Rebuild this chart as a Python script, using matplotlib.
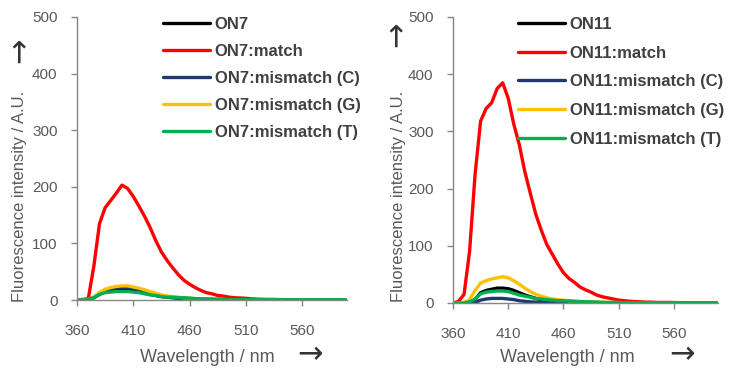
import numpy as np
import matplotlib
matplotlib.use("Agg")
import matplotlib.pyplot as plt

plt.rcParams['font.family'] = ['Liberation Sans', 'DejaVu Sans']

wl = list(range(360, 601, 5))

def tail(vals):
    # pad a series with its last value up to 600 nm
    return vals + [vals[-1]] * (len(wl) - len(vals))

labels7 = ['ON7', 'ON7:match', 'ON7:mismatch (C)', 'ON7:mismatch (G)', 'ON7:mismatch (T)']
labels11 = ['ON11', 'ON11:match', 'ON11:mismatch (C)', 'ON11:mismatch (G)', 'ON11:mismatch (T)']
colors = ['#000000', '#FF0000', '#1F3870', '#FFC000', '#00B050']

# ON7 panel
on7 = tail([0, 0, 1, 4, 10, 15, 17, 18, 18, 17, 16, 14, 12, 10, 8, 6, 5, 4, 3, 3, 2, 2, 1.5, 1.5, 1, 1, 1, 0.5])
on7_match = tail([0, 1, 2, 60, 135, 163, 176, 189, 203, 197, 183, 166, 148, 128, 105, 85, 70, 57, 45, 35,
                  28, 22, 17, 13, 11, 8, 7, 5, 4, 3.5, 3, 2, 1.5, 1.2, 1, 1, 0.8, 0.6, 0.5])
on7_c = tail([0, 0, 1, 5, 12, 17, 20, 21, 22, 22, 21, 19, 16, 13, 10, 8, 6, 5, 4, 3, 3, 2, 2, 1.5, 1, 1, 1, 0.5])
on7_g = tail([0, 0, 1, 5, 13, 19, 22, 24, 25, 25, 23, 21, 18, 15, 12, 9, 7, 6, 5, 4, 3, 2.5, 2, 1.5, 1.5, 1, 1, 0.5])
on7_t = tail([0, 0, 1, 4, 10, 13, 14, 15, 15, 15, 14, 13, 11, 9, 8, 6, 5, 5, 4, 4, 3, 2.5, 2, 1.5, 1.5, 1, 1, 0.5])

# ON11 panel
on11 = tail([0, 0, 0, 1, 6, 18, 22, 24, 26, 26, 25, 22, 18, 14, 11, 8, 6, 5, 4, 3, 3, 2.5, 2, 1.5, 1.5, 1, 1, 0.5])
on11_match = tail([0, 3, 15, 90, 225, 318, 340, 350, 375, 385, 358, 313, 277, 230, 192, 155, 127, 102, 85, 68,
                   53, 43, 36, 28, 23, 19, 14, 11, 9, 7, 5, 4, 3, 2.5, 2, 1.5, 1.5, 1, 1, 1, 0.8, 0.6, 0.5])
on11_c = tail([0, 0, 0, 0, 1, 5, 7, 8, 8, 8, 7, 6, 4, 3, 2, 1.5, 1, 1, 0.5, 0.5, 0])
on11_g = tail([0, 0, 1, 6, 22, 35, 39, 42, 44, 46, 44, 39, 33, 26, 20, 15, 12, 9, 7, 6, 5, 4, 3, 2.5, 2, 1.5,
               1.5, 1.2, 1, 1, 0.8, 0.5])
on11_t = tail([0, 0, 0, 2, 7, 16, 19, 20, 21, 21, 20, 17, 14, 12, 10, 8, 7, 6, 5, 4, 4, 3.5, 3, 2.5, 2, 2,
               1.5, 1.2, 1, 1, 0.8, 0.5])

W, H = 731, 370
fig = plt.figure(figsize=(W / 100, H / 100), dpi=100)

GREY = '#595959'


def px(x, y):
    return x / W, 1 - y / H


def panel(rect, series, labels, leg_xy, labelspacing, ylab_x, yarrow, xlab_x, xarrow_x):
    ax = fig.add_axes(rect)
    for s, lab, c in zip(series, labels, colors):
        ax.plot(wl, s, color=c, lw=2.4, label=lab, solid_capstyle='round')
    ax.set_xlim(360, 600)
    ax.set_ylim(0, 500)
    ax.set_xticks([360, 410, 460, 510, 560])
    ax.set_yticks([0, 100, 200, 300, 400, 500])
    for sp in ['top', 'right']:
        ax.spines[sp].set_visible(False)
    for sp in ['left', 'bottom']:
        ax.spines[sp].set_color('#868686')
        ax.spines[sp].set_linewidth(1.0)
    ax.tick_params(axis='both', colors='#868686', labelcolor=GREY, labelsize=11, length=4, width=1)
    ax.tick_params(axis='x', pad=13)
    ax.tick_params(axis='y', pad=10)
    leg = ax.legend(loc='upper left', bbox_to_anchor=px(*leg_xy), bbox_transform=fig.transFigure,
                    frameon=False, handlelength=2.8, handletextpad=0.3, labelspacing=labelspacing,
                    borderpad=0, borderaxespad=0, prop={'size': 12, 'weight': 'bold'})
    for t in leg.get_texts():
        t.set_color('#404040')
    fig.text(*px(ylab_x, 196), 'Fluorescence intensity / A.U.', rotation=90, ha='center', va='center',
             fontsize=12, color=GREY)
    fig.text(*px(*yarrow), '\u2192', rotation=90, ha='center', va='center', fontsize=22, color='#333333',
             family='DejaVu Sans')
    fig.text(*px(xlab_x, 358), 'Wavelength / nm', ha='center', va='center', fontsize=13, color=GREY)
    fig.text(*px(xarrow_x, 355), '\u2192', ha='center', va='center', fontsize=22, color='#333333',
             family='DejaVu Sans')
    return ax


panel([77 / W, 70 / H, 270 / W, 283 / H],
      [on7, on7_match, on7_c, on7_g, on7_t], labels7,
      (163, 17), 0.72, 20, (20, 50), 207, 310)
panel([453 / W, 67 / H, 265 / W, 286 / H],
      [on11, on11_match, on11_c, on11_g, on11_t], labels11,
      (518, 17), 0.82, 398, (397, 34), 567, 682)

fig.savefig('out.png', dpi=100)
